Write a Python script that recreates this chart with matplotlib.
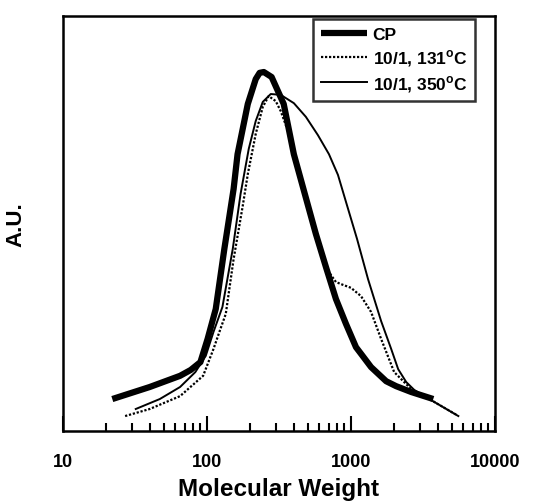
import matplotlib
matplotlib.use("Agg")
import matplotlib.pyplot as plt
from matplotlib.ticker import LogLocator, NullFormatter, FixedLocator, FixedFormatter

plt.rcParams['font.family'] = ['Liberation Sans', 'DejaVu Sans']
plt.rcParams['font.weight'] = 'bold'
plt.rcParams['mathtext.fontset'] = 'custom'
plt.rcParams['mathtext.rm'] = 'Liberation Sans:bold'
plt.rcParams['mathtext.bf'] = 'Liberation Sans:bold'

# CP
cp_mw = [22, 40, 65, 77, 90, 101, 115, 132, 153, 163, 192, 218, 232, 248, 281, 341,
         401, 478, 570, 670, 786, 923, 1083, 1174, 1378, 1754, 2059, 2618, 3727]
cp_au = [0.077, 0.106, 0.133, 0.147, 0.166, 0.222, 0.294, 0.439, 0.583, 0.667,
         0.788, 0.848, 0.863, 0.865, 0.853, 0.788, 0.667, 0.571, 0.475, 0.395,
         0.318, 0.258, 0.202, 0.186, 0.154, 0.120, 0.108, 0.094, 0.077]

# 10/1, 131 C (dotted)
t131_mw = [27, 40, 65, 94, 111, 124, 135, 153, 177, 192, 218, 244, 268, 300, 325,
           382, 427, 501, 589, 692, 786, 852, 1000, 1174, 1378, 1618, 1994, 2618,
           3786, 5393]
t131_au = [0.036, 0.053, 0.084, 0.133, 0.198, 0.246, 0.282, 0.414, 0.542, 0.619,
           0.716, 0.781, 0.807, 0.795, 0.771, 0.704, 0.627, 0.547, 0.463, 0.386,
           0.359, 0.354, 0.345, 0.325, 0.287, 0.222, 0.142, 0.101, 0.070, 0.039]

# 10/1, 350 C (thin solid)
t350_mw = [32, 47, 65, 83, 98, 111, 128, 151, 171, 195, 218, 244, 277, 325, 401,
           486, 589, 703, 812, 923, 1101, 1313, 1618, 1900, 2126, 2417, 2749,
           3786, 5565]
t350_au = [0.053, 0.077, 0.106, 0.142, 0.181, 0.239, 0.299, 0.439, 0.571, 0.680,
           0.747, 0.793, 0.812, 0.810, 0.790, 0.757, 0.713, 0.667, 0.617, 0.552,
           0.463, 0.366, 0.265, 0.198, 0.149, 0.118, 0.099, 0.070, 0.036]

labels = ['CP', '10/1, 131$^{\\mathbf{o}}$C', '10/1, 350$^{\\mathbf{o}}$C']
xticks = [10, 100, 1000, 10000]

fig = plt.figure(figsize=(5.34, 5.02), dpi=100)
ax = fig.add_axes([63 / 534, 70 / 502, 432 / 534, 415 / 502])

ax.plot(cp_mw, cp_au, color='black', lw=4.5, solid_capstyle='butt',
        solid_joinstyle='round', label=labels[0])
ax.plot(t131_mw, t131_au, color='black', lw=1.6, ls=(0, (1, 0.8)), label=labels[1])
ax.plot(t350_mw, t350_au, color='black', lw=1.4, solid_joinstyle='round',
        label=labels[2])

ax.set_xscale('log')
ax.set_xlim(10, 10000)
ax.set_ylim(0, 1)

for s in ax.spines.values():
    s.set_linewidth(1.8)
    s.set_color('black')

ax.xaxis.set_major_locator(FixedLocator(xticks))
ax.xaxis.set_major_formatter(FixedFormatter([str(v) for v in xticks]))
ax.xaxis.set_minor_locator(LogLocator(base=10, subs=range(2, 10)))
ax.xaxis.set_minor_formatter(NullFormatter())
ax.tick_params(axis='x', which='major', direction='in', length=11, width=1.5,
               pad=16, labelsize=13)
ax.tick_params(axis='x', which='minor', direction='in', length=6, width=1.5)
ax.set_yticks([])

ax.set_xlabel('Molecular Weight', fontsize=17.5, fontweight='bold')
ax.xaxis.set_label_coords(0.5, -0.112)
ax.set_ylabel('A.U.', fontsize=16, fontweight='bold')
ax.yaxis.set_label_coords(-0.085, 0.5)

leg = ax.legend(loc='upper right', bbox_to_anchor=(0.954, 0.993), borderaxespad=0,
                fontsize=12.5, frameon=True, fancybox=False, handlelength=2.7,
                handletextpad=0.3, labelspacing=0.3, borderpad=0.45)
leg.get_frame().set_edgecolor('black')
leg.get_frame().set_linewidth(1.8)

plt.savefig('out.png', dpi=100)
